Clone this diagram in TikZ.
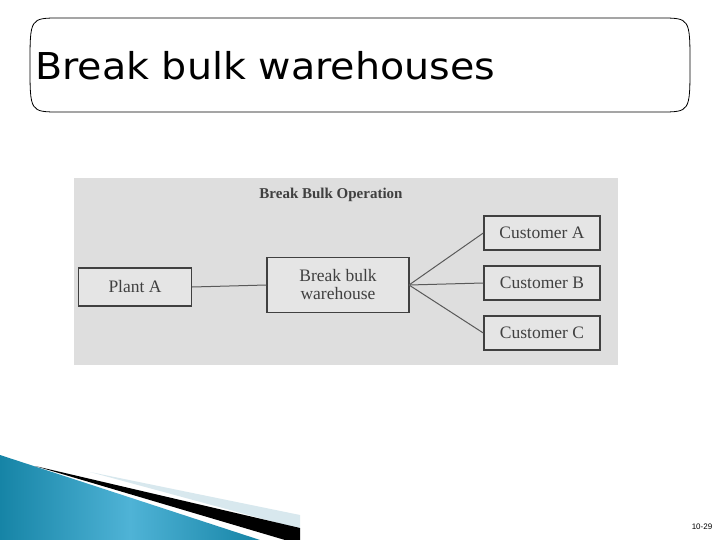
\documentclass[tikz,border=0pt]{standalone}
\usepackage{fontspec}
\setmainfont{Liberation Serif}
\newfontfamily\titlefont{DejaVu Sans}
\newfontfamily\smallfont{Liberation Sans}
\definecolor{teal1}{HTML}{1684A6}
\definecolor{teal2}{HTML}{4FB3D6}
\definecolor{paleb}{HTML}{D8E8EE}
\begin{document}
\begin{tikzpicture}[x=1pt,y=-1pt,
  box/.style={draw=black!75,line width=1.4pt,fill=white!90!black,font=\fontsize{17.5}{18}\selectfont,text=black!75},
  link/.style={draw=black!65,line width=1pt}]
\useasboundingbox (0,0) rectangle (720,540);
\fill[white] (0,0) rectangle (720,540);
% title frame
\draw[black,line width=0.8pt] (60,18) -- (660,18) .. controls (690,18) and (690,18) .. (690,65) .. controls (690,112) and (690,112) .. (660,112) -- (60,112) .. controls (30,112) and (30,112) .. (30,65) .. controls (30,18) and (30,18) .. (60,18);
\node[anchor=west,font=\titlefont\fontsize{37}{40}\selectfont,xscale=1.07,inner sep=0pt] (title) at (35,66) {Break bulk warehouses};
% diagram panel
\fill[black!13] (74,178) rectangle (618,365);
\node[font=\bfseries\fontsize{15}{16}\selectfont,text=black!75] (op) at (331,195) {Break Bulk Operation};
\node[box,minimum width=113pt,minimum height=38pt] (plant) at (135,287) {Plant A};
\node[box,minimum width=142pt,minimum height=55pt,align=center,inner sep=2pt] (bbw) at (338,285) {Break bulk\\warehouse};
\node[box,minimum width=116pt,minimum height=34pt] (ca) at (542,233) {Customer A};
\node[box,minimum width=116pt,minimum height=34pt] (cb) at (542,283) {Customer B};
\node[box,minimum width=116pt,minimum height=34pt] (cc) at (542,333) {Customer C};
\draw[link] (plant.east) -- (bbw.west);
\coordinate (fan) at (409,285);
\draw[link] (fan) -- (ca.west);
\draw[link] (fan) -- (cb.west);
\draw[link] (fan) -- (cc.west);
% swoosh
\fill[paleb] (90,472) -- (300,515) -- (300,529) -- cycle;
\shade[left color=teal1,right color=teal1,middle color=teal2] (0,455) -- (260,540) -- (0,540) -- cycle;
\fill[black] (35,466) -- (300,528) -- (300,540) -- (285,540) -- cycle;
\node[font=\smallfont\fontsize{8}{9}\selectfont] (pg) at (702,527) {10-29};
\end{tikzpicture}
\end{document}
